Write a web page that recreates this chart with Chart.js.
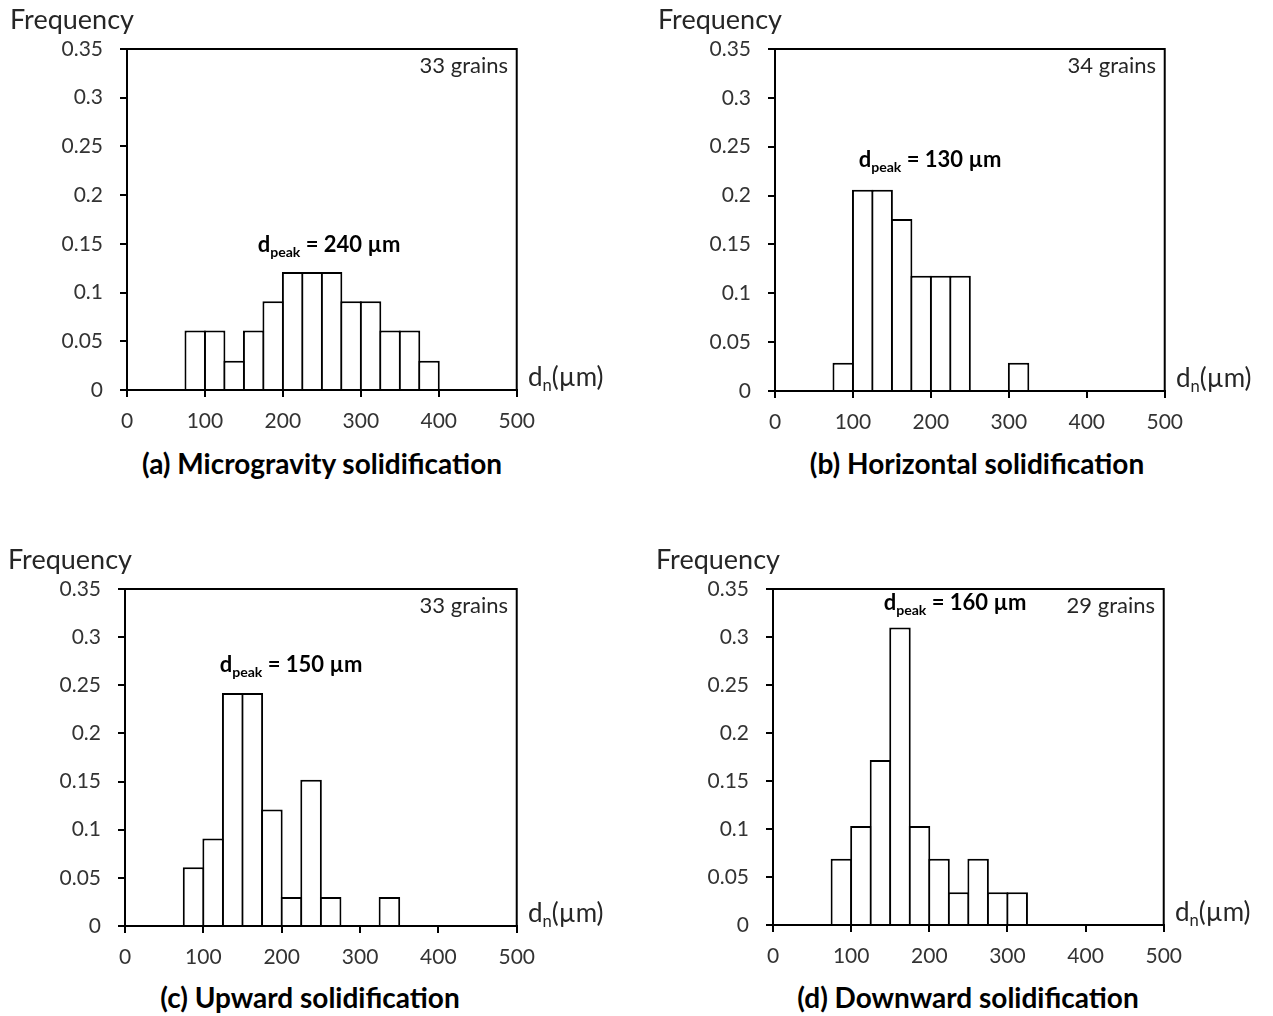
<!DOCTYPE html>
<html>
<head>
<meta charset="utf-8">
<title>Grain size distributions</title>
<script src="https://cdn.jsdelivr.net/npm/chart.js@4.4.1/dist/chart.umd.min.js"></script>
<style>
    html, body { margin: 0; padding: 0; background: #fff; }
    #page { position: relative; width: 1273px; height: 1016px; overflow: hidden;
            font-family: Lato, "Open Sans", sans-serif; color: #262626; }
    #page canvas { position: absolute; }
    .lbl { position: absolute; white-space: nowrap; line-height: 1; }
    .bold { font-weight: bold; color: #000; }
    .sub { font-size: 0.64em; position: relative; top: 0.3em; }
</style>
</head>
<body>
<div id="page"></div>
<script>
// lower edge of each 25 um bin
var binStarts = [75, 100, 125, 150, 175, 200, 225, 250, 275, 300, 325, 350, 375];
var binWidth = 25;

// frequency per bin (null = empty bin)
var freqA = [0.061, 0.061, 0.030, 0.061, 0.091, 0.121, 0.121, 0.121, 0.091, 0.091, 0.061, 0.061, 0.030];
var freqB = [0.029, 0.206, 0.206, 0.176, 0.118, 0.118, 0.118, null, null, 0.029, null, null, null];
var freqC = [0.061, 0.091, 0.242, 0.242, 0.121, 0.030, 0.152, 0.030, null, null, 0.030, null, null];
var freqD = [0.069, 0.103, 0.172, 0.310, 0.103, 0.069, 0.034, 0.069, 0.034, 0.034, null, null, null];

var grainCounts = [33, 34, 33, 29];
var peakSizes = [240, 130, 150, 160];
var panelTitles = ['(a) Microgravity solidification', '(b) Horizontal solidification',
                   '(c) Upward solidification', '(d) Downward solidification'];

var yTicks = [0, 0.05, 0.1, 0.15, 0.2, 0.25, 0.3, 0.35];
var xTicks = [0, 100, 200, 300, 400, 500];

// where each plot area sits on the page, and where its texts go
var panelBoxes = [
    { left: 127, right: 517, top: 49, bottom: 390, titleX: 322, titleY: 474, peakX: 329, peakY: 253 },
    { left: 775, right: 1165, top: 49, bottom: 391, titleX: 977, titleY: 474, peakX: 930, peakY: 168 },
    { left: 125, right: 517, top: 589, bottom: 926, titleX: 310, titleY: 1008, peakX: 291, peakY: 673 },
    { left: 773, right: 1164, top: 589, bottom: 925, titleX: 968, titleY: 1008, peakX: 955, peakY: 611 }
];

var page = document.getElementById('page');

// top + right border of the plot box
var frameBox = {
    id: 'frameBox',
    afterDraw: function(chart) {
        var a = chart.chartArea, ctx = chart.ctx;
        ctx.save();
        ctx.strokeStyle = '#000';
        ctx.lineWidth = 2;
        ctx.beginPath();
        ctx.moveTo(a.left, a.top);
        ctx.lineTo(a.right, a.top);
        ctx.lineTo(a.right, a.bottom);
        ctx.stroke();
        ctx.restore();
    }
};

// place a text by its baseline (Lato ascent ~0.887em with line-height 1)
function addText(html, x, baseline, size, cls, align) {
    var d = document.createElement('div');
    d.className = 'lbl ' + (cls || '');
    d.innerHTML = html;
    d.style.fontSize = size + 'px';
    d.style.left = x + 'px';
    d.style.top = (baseline - 0.887 * size) + 'px';
    if (align === 'center') d.style.transform = 'translateX(-50%)';
    if (align === 'right') d.style.transform = 'translateX(-100%)';
    page.appendChild(d);
}

function makePanel(i, values) {
    var box = panelBoxes[i];
    // padT must beat the y scale's own top padding (half label + tick padding)
    var yW = 70, xH = 50, padT = 36, padR = 30;
    var cl = box.left - yW, ct = box.top - padT;
    var cw = box.right + padR - cl, ch = box.bottom + xH - ct;

    var canvas = document.createElement('canvas');
    canvas.width = cw;
    canvas.height = ch;
    canvas.style.left = cl + 'px';
    canvas.style.top = ct + 'px';
    canvas.style.width = cw + 'px';
    canvas.style.height = ch + 'px';
    page.appendChild(canvas);

    var points = binStarts.map(function(s, k) {
        return { x: s + binWidth / 2, y: values[k] };
    });

    var axisGrid = { drawOnChartArea: false, drawTicks: true, tickLength: 7, color: '#000', lineWidth: 2, offset: false };
    var axisBorder = { display: true, color: '#000', width: 2 };
    var tickFont = { family: 'Lato', size: 21 };

    new Chart(canvas, {
        type: 'bar',
        data: {
            datasets: [{
                data: points,
                backgroundColor: '#fff',
                borderColor: '#000',
                borderWidth: 2,
                barPercentage: 1.1,
                categoryPercentage: 1
            }]
        },
        options: {
            responsive: false,
            animation: false,
            layout: { padding: { left: 0, top: padT, right: padR, bottom: 0 } },
            plugins: { legend: { display: false }, tooltip: { enabled: false } },
            scales: {
                x: {
                    type: 'linear',
                    min: 0,
                    max: 500,
                    offset: false,
                    afterBuildTicks: function(s) {
                        s.ticks = xTicks.map(function(v) { return { value: v }; });
                    },
                    afterFit: function(s) { s.height = xH; },
                    grid: axisGrid,
                    border: axisBorder,
                    ticks: { color: '#333', font: tickFont, padding: 12, maxRotation: 0 }
                },
                y: {
                    min: 0,
                    max: 0.35,
                    afterBuildTicks: function(s) {
                        s.ticks = yTicks.map(function(v) { return { value: v }; });
                    },
                    afterFit: function(s) { s.width = yW; },
                    grid: axisGrid,
                    border: axisBorder,
                    ticks: {
                        color: '#333',
                        font: tickFont,
                        padding: 17,
                        callback: function(v) { return Number(v.toFixed(2)).toString(); }
                    }
                }
            }
        },
        plugins: [frameBox]
    });

    addText('Frequency', box.left - 117, box.top - 20, 27);
    addText(grainCounts[i] + ' grains', box.right - 9, box.top + 25, 22, '', 'right');
    addText('d<span class="sub">peak</span> = ' + peakSizes[i] + ' µm', box.peakX, box.peakY, 22, 'bold', 'center');
    addText('d<span class="sub">n</span>(µm)', box.right + 11, box.bottom - 4, 26);
    addText(panelTitles[i], box.titleX, box.titleY, 28, 'bold', 'center');
}

makePanel(0, freqA);
makePanel(1, freqB);
makePanel(2, freqC);
makePanel(3, freqD);
</script>
</body>
</html>
